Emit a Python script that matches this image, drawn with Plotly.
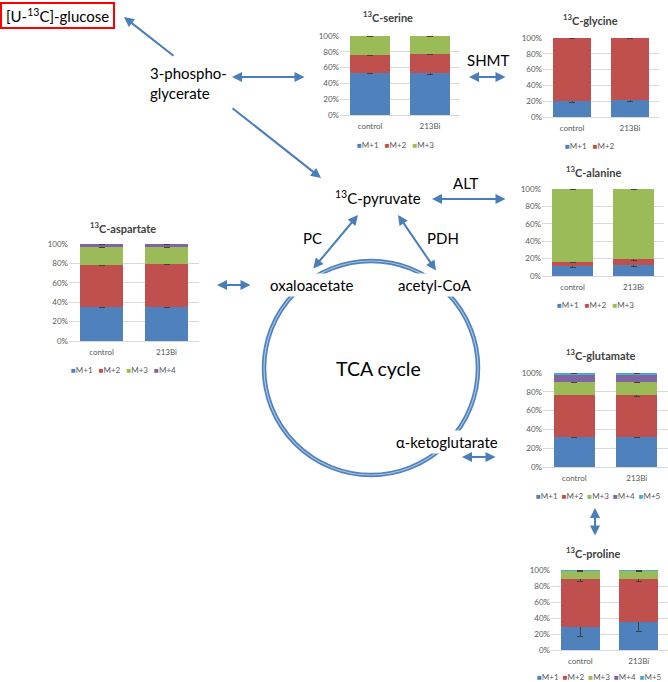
import plotly.graph_objects as go

W, H = 668, 682


def px(x):
    return x / W


def py(y):
    return 1 - y / H


# ---------------- data ----------------
categories = ["control", "213Bi"]
isotopologues = ["M+1", "M+2", "M+3", "M+4", "M+5"]
tick_vals = [0, 0.2, 0.4, 0.6, 0.8, 1.0]

serine_vals = [[0.536, 0.527], [0.221, 0.243], [0.243, 0.230]]
serine_err = [[0.010, 0.010], [0.006, 0.006], [0.003, 0.003]]

glycine_vals = [[0.204, 0.221], [0.796, 0.779]]
glycine_err = [[0.022, 0.020], [0.004, 0.004]]

alanine_vals = [[0.115, 0.126], [0.046, 0.064], [0.839, 0.810]]
alanine_err = [[0.012, 0.012], [0.008, 0.008], [0.003, 0.003]]

aspartate_vals = [[0.353, 0.353], [0.426, 0.439], [0.193, 0.180], [0.028, 0.028]]
aspartate_err = [[0.008, 0.012], [0.005, 0.005], [0.006, 0.006], [0.002, 0.002]]

glutamate_vals = [[0.321, 0.321], [0.450, 0.440], [0.136, 0.146], [0.079, 0.079], [0.014, 0.014]]
glutamate_err = [[0.004, 0.004], [0.004, 0.006], [0.004, 0.004], [0.004, 0.004], [0.002, 0.002]]

proline_vals = [[0.283, 0.350], [0.605, 0.538], [0.100, 0.100], [0.002, 0.002], [0.010, 0.010]]
proline_err = [[0.110, 0.115], [0.027, 0.030], [0.003, 0.003], [0.001, 0.001], [0.001, 0.001]]

# ---------------- styles ----------------
colors = ["#4F81BD", "#C0504D", "#9BBB59", "#8064A2", "#4BACC6"]
FONT = "Lato"
ARROW = "#4A7EBB"
GREY = "#595959"

charts = [
    # name, values, errors, x-domain px, y-domain px (top, bottom), title pos, legend pos
    ("serine", serine_vals, serine_err, (340, 460), (36, 115), (388, 17), (395, 145)),
    ("glycine", glycine_vals, glycine_err, (543, 659), (38, 117), (590, 20), (590, 146)),
    ("alanine", alanine_vals, alanine_err, (542, 664), (189, 276), (593, 171), (595, 305)),
    ("aspartate", aspartate_vals, aspartate_err, (69, 199), (244, 341), (123, 228), (123, 370)),
    ("glutamate", glutamate_vals, glutamate_err, (543, 668), (373, 467), (600, 354), (598, 496)),
    ("proline", proline_vals, proline_err, (551, 668), (570, 650), (593, 552), (599, 677)),
]

fig = go.Figure()
annotations = []
layout_axes = {}

for i, (name, vals, errs, xd, yd, tpos, lpos) in enumerate(charts, start=1):
    xa = "x" if i == 1 else f"x{i}"
    ya = "y" if i == 1 else f"y{i}"
    for k, (v, e) in enumerate(zip(vals, errs)):
        fig.add_trace(go.Bar(
            x=categories, y=v, name=isotopologues[k],
            marker=dict(color=colors[k], line=dict(width=0)),
            error_y=dict(type="data", array=e, color="#404040", thickness=1, width=3),
            cliponaxis=False, showlegend=False, xaxis=xa, yaxis=ya,
        ))
    layout_axes["xaxis" if i == 1 else f"xaxis{i}"] = dict(
        domain=[px(xd[0]), px(xd[1])], anchor=ya, showgrid=False, zeroline=False,
        showline=True, linecolor="#D9D9D9", linewidth=1, ticks="",
        tickfont=dict(family=FONT, size=8, color=GREY), ticklabelstandoff=3,
        fixedrange=True, automargin=False,
    )
    layout_axes["yaxis" if i == 1 else f"yaxis{i}"] = dict(
        domain=[py(yd[1]), py(yd[0])], anchor=xa, range=[0, 1.0],
        tickvals=tick_vals, tickformat=".0%", showgrid=True, gridcolor="#D9D9D9",
        gridwidth=1, zeroline=False, showline=False, ticks="",
        tickfont=dict(family=FONT, size=8, color=GREY), fixedrange=True,
        automargin=False,
    )
    annotations.append(dict(
        x=px(tpos[0]), y=py(tpos[1]), xref="paper", yref="paper", showarrow=False,
        xanchor="center", yanchor="middle",
        text=f"<b><sup>13</sup>C-{name}</b>", font=dict(family=FONT, size=11, color="#404040"),
    ))
    sep = "   " if len(vals) < 5 else "  "
    legend_text = sep.join(
        f"<span style='color:{colors[k]}'>■</span>{isotopologues[k]}" for k in range(len(vals))
    )
    annotations.append(dict(
        x=px(lpos[0]), y=py(lpos[1]), xref="paper", yref="paper", showarrow=False,
        xanchor="center", yanchor="middle",
        text=legend_text, font=dict(family=FONT, size=8, color=GREY),
    ))

# ---------------- diagram labels ----------------
labels = [
    ("[U-<sup>13</sup>C]-glucose", 57, 16, 15, "center", None),
    ("3-phospho-<br>glycerate", 147, 83, 15, "left", None),
    ("<sup>13</sup>C-pyruvate", 378, 198, 15, "center", None),
    ("ALT", 465, 183, 15, "center", None),
    ("SHMT", 488, 60, 15, "center", None),
    ("PC", 312, 238, 15, "center", None),
    ("PDH", 443, 238, 15, "center", None),
    ("oxaloacetate", 312, 285, 15, "center", "white"),
    ("acetyl-CoA", 435, 285, 15, "center", "white"),
    ("TCA cycle", 378, 368, 19.5, "center", None),
    ("α-ketoglutarate", 447, 442, 15, "center", "white"),
]
for text, x, y, size, anchor, bg in labels:
    annotations.append(dict(
        x=px(x), y=py(y), xref="paper", yref="paper", showarrow=False, text=text,
        xanchor=anchor, yanchor="middle", align=anchor,
        font=dict(family=FONT, size=size, color="black"),
        bgcolor=bg if bg else "rgba(0,0,0,0)", borderpad=2,
    ))

# arrows: head(x, y), tail(x, y), double-headed?
arrows = [
    ((124, 17), (175, 57), False),
    ((232, 77), (306, 77), True),
    ((321, 178), (231, 107), False),
    ((432, 199), (507, 199), True),
    ((358, 215), (312, 270), True),
    ((398, 215), (437, 272), True),
    ((217, 285), (252, 285), True),
    ((469, 77), (507, 77), True),
    ((462, 457), (497, 457), True),
    ((595, 508), (595, 537), True),
]
for (hx, hy), (tx, ty), both in arrows:
    annotations.append(dict(
        x=px(hx), y=py(hy), xref="paper", yref="paper",
        ax=tx - hx, ay=ty - hy, axref="pixel", ayref="pixel",
        text="", showarrow=True, arrowhead=2, arrowsize=1, arrowwidth=2,
        arrowcolor=ARROW, arrowside="end+start" if both else "end",
        startarrowhead=2, startarrowsize=1, standoff=0, startstandoff=0,
    ))

shapes = [
    dict(type="rect", xref="paper", yref="paper", x0=px(1), x1=px(114), y0=py(28), y1=py(3),
         line=dict(color="#FF0000", width=2), fillcolor="rgba(0,0,0,0)", layer="above"),
    dict(type="circle", xref="paper", yref="paper", x0=px(264), x1=px(478), y0=py(475), y1=py(261),
         line=dict(color="#4F81BD", width=4.5), layer="below"),
    dict(type="circle", xref="paper", yref="paper", x0=px(264), x1=px(478), y0=py(475), y1=py(261),
         line=dict(color="#A9C6E8", width=1.2), layer="below"),
]

fig.update_layout(
    width=W, height=H, margin=dict(l=0, r=0, t=0, b=0, pad=0, autoexpand=False),
    paper_bgcolor="white", plot_bgcolor="rgba(0,0,0,0)",
    barmode="stack", bargap=0.34,
    annotations=annotations, shapes=shapes, showlegend=False,
    font=dict(family=FONT),
    **layout_axes,
)

fig.write_html(
    "out.html",
    config={"displayModeBar": False},
    post_script="document.body.style.margin='0px';",
)
